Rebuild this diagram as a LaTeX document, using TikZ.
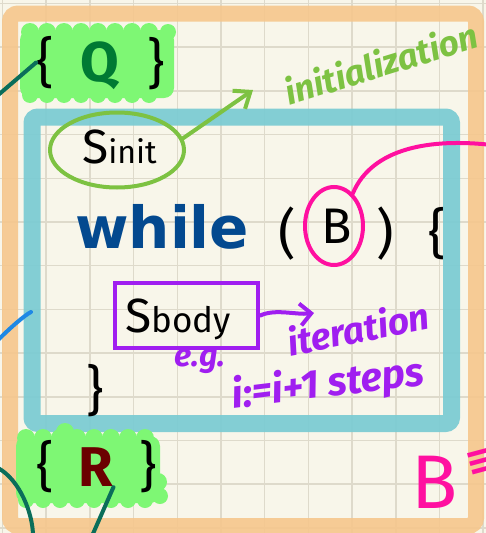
\documentclass[tikz,border=0pt]{standalone}
\usepackage{fontspec}
\setmainfont{Fira Sans}
\newfontfamily\kwfont{DejaVu Sans}
\usetikzlibrary{arrows.meta, calc, shapes.geometric}
\definecolor{paper}{HTML}{F8F6EA}
\definecolor{gridline}{HTML}{DEDACB}
\definecolor{framebar}{HTML}{F6C78C}
\definecolor{loopbar}{HTML}{7DCCD3}
\definecolor{hlgreen}{HTML}{7EF774}
\definecolor{qgreen}{HTML}{007A33}
\definecolor{rred}{HTML}{6B0000}
\definecolor{kwblue}{HTML}{03498F}
\definecolor{initgreen}{HTML}{7DC242}
\definecolor{condpink}{HTML}{FF10A0}
\definecolor{bodypurple}{HTML}{A01EF0}
\definecolor{tealink}{HTML}{0A6E5A}
\definecolor{blueink}{HTML}{1E88E5}

\begin{document}
\begin{tikzpicture}[
        x=1pt, y=-1pt,
        txt/.style={inner sep=0pt, text=black},
        brace/.style={txt, font=\fontsize{54}{54}\selectfont},
        hand/.style={inner sep=0pt, font=\bfseries\itshape\fontsize{32}{32}\selectfont},
        ink/.style={line width=4pt, line cap=round, line join=round},
        ring/.style={ellipse, draw, line width=4pt, inner sep=0pt},
        blob/.style={fill=hlgreen}
    ]
        % paper and grid
        \fill[paper] (0,0) rectangle (486,533);
        \useasboundingbox (0,0) rectangle (486,533);
        \foreach \k in {0,...,11}
            \draw[gridline, line width=1.5pt] ({2.5+43.7*\k},0) -- ({2.5+43.7*\k},533);
        \foreach \k in {0,...,12}
            \draw[gridline, line width=1.5pt] (0,{3.5+43.7*\k}) -- (486,{3.5+43.7*\k});

        % frames
        \draw[framebar, line width=16pt, rounded corners=8pt, opacity=0.9] (10,13.5) rectangle (476,526);
        \draw[loopbar, line width=17pt, rounded corners=6pt, opacity=0.95] (32,117) rectangle (451.5,423.5);

        % highlighter behind the assertions
        \fill[blob, rounded corners=10pt] (20,30) rectangle (174,98);
        \foreach \x in {30,47,...,165} {
            \fill[blob] (\x,32) circle (9);
            \fill[blob] (\x,95) circle (8);
        }
        \fill[blob] (168,32) circle (8);
        \fill[blob, rounded corners=10pt] (16,436) rectangle (160,503);
        \foreach \x in {26,43,...,150} {
            \fill[blob] (\x,438) circle (9);
            \fill[blob] (\x,500) circle (8);
        }
        \fill[blob] (65,432) circle (9);
        \fill[blob] (158,482) circle (9);
        \fill[blob] (160,496) circle (8);

        % precondition and postcondition
        \node[brace] (qopen) at (45,62.5) {\{};
        \node[txt, text=qgreen, font=\bfseries\fontsize{56}{56}\selectfont] (qmid) at (100,66) {Q};
        \node[brace] (qclose) at (156,63.5) {\}};
        \node[brace] (ropen) at (45,466.5) {\{};
        \node[txt, text=rred, font=\bfseries\fontsize{56}{56}\selectfont] (rmid) at (96,467.5) {R};
        \node[brace] (rclose) at (148.5,466.5) {\}};

        % loop text
        \node[txt, anchor=base west] (sinit) at (82,163)
            {\fontsize{48}{48}\selectfont S\fontsize{32}{32}\selectfont init};
        \node[ring, draw=initgreen, minimum width=134pt, minimum height=75pt] (initring) at (117,150) {};
        \node[txt, anchor=base west, text=kwblue, font=\kwfont\bfseries\fontsize{58}{58}\selectfont] (kw) at (75,248) {while};
        \node[brace] (lpar) at (287.5,233.5) {(};
        \node[txt, font=\fontsize{50}{50}\selectfont] (cond) at (336.5,226.5) {B};
        \node[brace] (rpar) at (385.5,233.5) {)};
        \node[brace] (bopen) at (437.5,233.5) {\{};
        \node[ring, draw=condpink, minimum width=58pt, minimum height=78pt] (condring) at (334,226) {};
        \node[draw=bodypurple, line width=4.5pt, minimum width=143pt, minimum height=65pt] (bodybox) at (186.5,315.5) {};
        \node[txt, anchor=base west] (sbody) at (125,332)
            {\fontsize{48}{48}\selectfont S\fontsize{35}{35}\selectfont body};
        \node[brace] (bclose) at (95,391) {\}};

        % notes
        \node[hand, text=initgreen, rotate=17, font=\bfseries\itshape\fontsize{35}{35}\selectfont] (initnote) at (381,63) {initialization};
        \node[hand, text=bodypurple, rotate=11, font=\bfseries\itshape\fontsize{37}{37}\selectfont] (iternote) at (358,328) {iteration};
        \node[hand, text=bodypurple] (egnote) at (200,361) {e.g.};
        \node[hand, text=bodypurple, rotate=7, font=\bfseries\itshape\fontsize{40}{40}\selectfont] (stepnote) at (328,385) {i:=i+1 steps};
        \node[inner sep=0pt, text=condpink, font=\fontsize{76}{76}\selectfont] (bnote) at (435,482) {B};
        \node[inner sep=0pt, anchor=west, text=condpink, rotate=15, font=\kwfont\bfseries\fontsize{40}{40}\selectfont] (eqnote) at (466,466) {≡};

        % ink strokes
        \coordinate (qin) at (-3,96);
        \coordinate (initend) at (253,90);
        \coordinate (pinkend) at (492,145);
        \coordinate (iterend) at (314,313);
        \coordinate (bluein) at (-3,341);
        \coordinate (blueend) at (31,312);
        \coordinate (arcin) at (-2,468);
        \coordinate (arcout) at (33,536);
        \coordinate (rtail) at (92,536);

        \draw[ink, tealink] (qin) -- (qopen.west);
        \draw[ink, initgreen, -{Straight Barb[length=14pt, width=22pt]}] (initring.10) -- (initend);
        \draw[ink, condpink] (condring.60) .. controls (372,148) and (430,138) .. (pinkend);
        \draw[ink, bodypurple, -{Straight Barb[length=11pt, width=22pt]}] (bodybox.east) .. controls +(15,-7) and +(-18,2) .. (iterend);
        \draw[ink, blueink] (bluein) .. controls +(14,-14) and +(-6,3) .. (blueend);
        \draw[ink, tealink] (arcin) .. controls +(22,12) and +(0,-22) .. (arcout);
        \draw[ink, tealink] (rmid.south east) -- (rtail);
    \end{tikzpicture}
\end{document}
